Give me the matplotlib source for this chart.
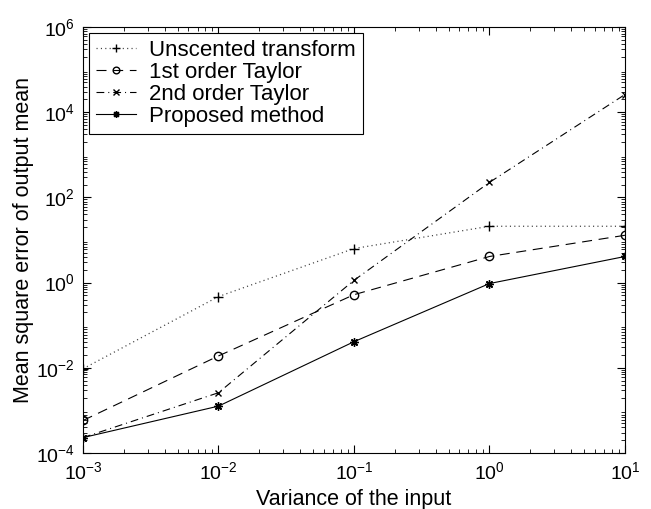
import numpy as np
import matplotlib
matplotlib.use('Agg')
import matplotlib.pyplot as plt

plt.rcParams['font.family'] = ['Liberation Sans', 'DejaVu Sans']
plt.rcParams['mathtext.fontset'] = 'custom'
plt.rcParams['mathtext.rm'] = 'Liberation Sans'

# input variance
variance = [1e-3, 1e-2, 1e-1, 1e0, 1e1]

# mse of output mean
unscented = [0.0095, 0.47, 6.3, 21, 21]
taylor1 = [5.8e-4, 0.019, 0.52, 4.1, 12.9]
taylor2 = [2.3e-4, 2.6e-3, 1.13, 225, 2.6e4]
proposed = [2.3e-4, 1.26e-3, 0.041, 0.95, 4.1]

labels = ['Unscented transform', '1st order Taylor', '2nd order Taylor', 'Proposed method']

fig = plt.figure(figsize=(6.51, 5.09), dpi=100)
ax = fig.add_axes([0.1275, 0.110, 0.8325, 0.837])

# matlab style asterisk
star = (8, 2, 0)

ax.loglog(variance, unscented, color='0.25', ls=(0, (0.9, 2.6)), marker='+', mec='k', ms=7, lw=0.9, label=labels[0])
ax.loglog(variance, taylor1, color='k', ls=(0, (9, 6)), marker='o', ms=6, lw=0.8, mfc='none', label=labels[1])
ax.loglog(variance, taylor2, color='k', ls=(0, (7, 3.6, 0.9, 3.6)), marker='x', ms=5, lw=0.8, label=labels[2])
ax.loglog(variance, proposed, '-', color='k', marker=star, ms=6, lw=0.8, label=labels[3])

ax.set_xlim(1e-3, 1e1)
ax.set_ylim(1e-4, 1e6)
ax.set_yticks([1e-4, 1e-2, 1e0, 1e2, 1e4, 1e6])
ax.tick_params(which='both', direction='in', top=True, right=True, labelsize=14)
ax.tick_params(which='major', length=6, pad=6)
ax.tick_params(which='minor', length=3)
ax.set_xlabel('Variance of the input', fontsize=15.5, labelpad=4)
ax.set_ylabel('Mean square error of output mean', fontsize=15.5, labelpad=1)

leg = ax.legend(loc='upper left', fontsize=16, handlelength=1.8, handletextpad=0.6,
                borderaxespad=0.28, fancybox=False, framealpha=1, labelspacing=0.05,
                borderpad=0.3, markerscale=0.8)
leg.get_frame().set_edgecolor('k')
leg.get_frame().set_linewidth(0.8)

plt.savefig('out.png', dpi=100)
